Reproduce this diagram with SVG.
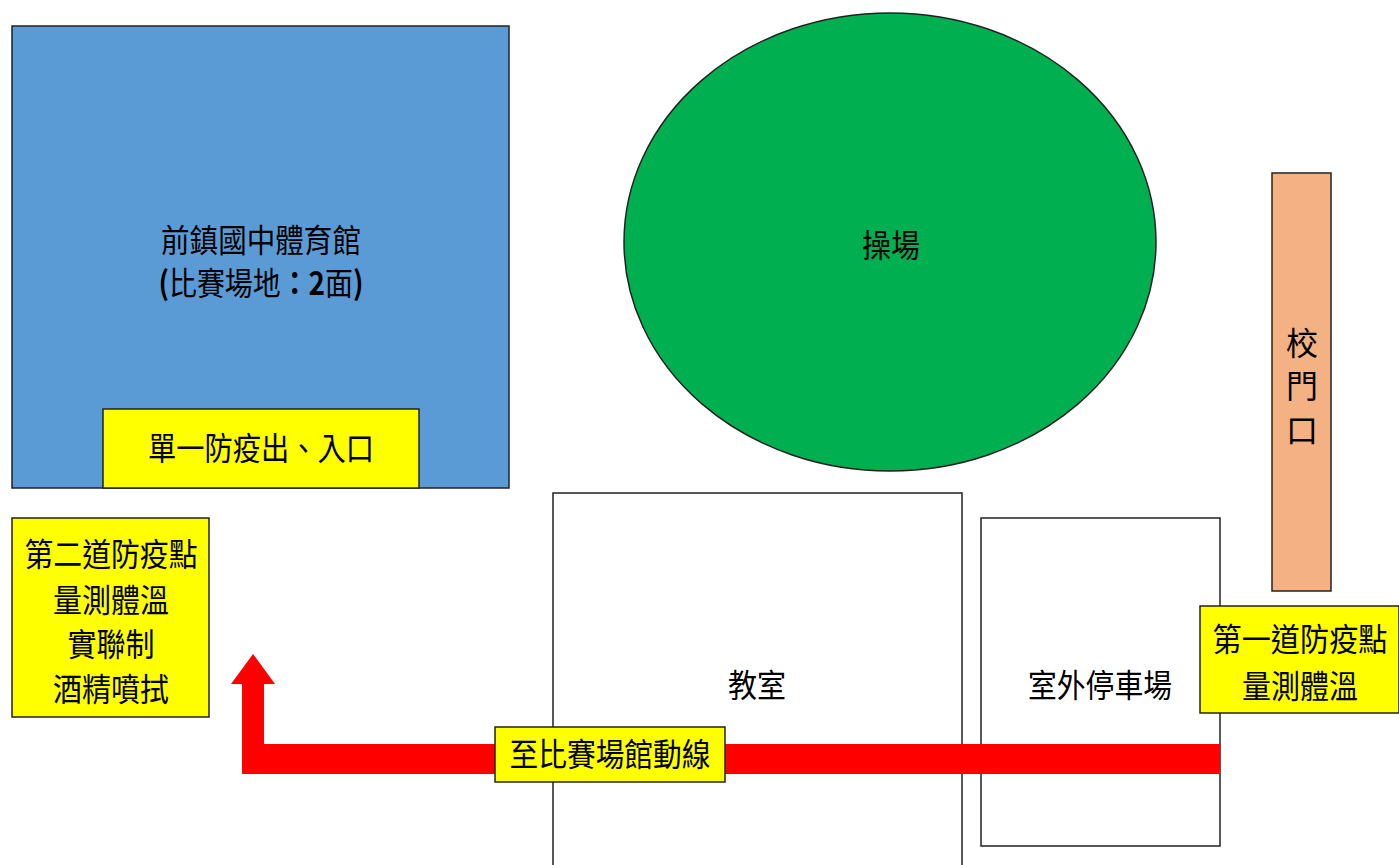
<svg xmlns="http://www.w3.org/2000/svg" width="1399" height="865" viewBox="0 0 1399 865">
<style>
.t{font-family:"Noto Sans CJK TC","Noto Sans CJK SC",sans-serif;font-size:32px;fill:#000;text-anchor:middle}
.b{stroke:#222;stroke-width:1.5}
.y{fill:#FFFF00;stroke:#222;stroke-width:1.5}
</style>
<rect width="1399" height="865" fill="#fff"/>
<g id="gym">
<rect x="12" y="26" width="497" height="462" fill="#5B9BD5" class="b"/>
<text class="t" x="261" y="252" textLength="200" lengthAdjust="spacingAndGlyphs">前鎮國中體育館</text>
<text class="t" x="261" y="295" textLength="205" lengthAdjust="spacingAndGlyphs"><tspan font-weight="bold">(</tspan>比賽場地<tspan font-weight="bold">：2</tspan>面<tspan font-weight="bold">)</tspan></text>
</g>
<g id="entrance">
<rect x="103" y="409" width="316" height="79" class="y"/>
<text class="t" x="261" y="460" textLength="226" lengthAdjust="spacingAndGlyphs">單一防疫出、入口</text>
</g>
<g id="field">
<ellipse cx="890" cy="242" rx="266" ry="229" fill="#00B050" class="b"/>
<text class="t" x="891" y="257" textLength="58" lengthAdjust="spacingAndGlyphs">操場</text>
</g>
<g id="gate">
<rect x="1272" y="173" width="59" height="418" fill="#F4B183" class="b"/>
<text class="t" x="1302" y="355">校</text>
<text class="t" x="1302" y="398">門</text>
<text class="t" x="1302" y="442">口</text>
</g>
<g id="classroom">
<rect x="553" y="493" width="409" height="380" fill="#fff" class="b"/>
<text class="t" x="757" y="697" textLength="58" lengthAdjust="spacingAndGlyphs">教室</text>
</g>
<g id="parking">
<rect x="981" y="518" width="239" height="328" fill="#fff" class="b"/>
<text class="t" x="1100" y="697" textLength="144" lengthAdjust="spacingAndGlyphs">室外停車場</text>
</g>
<g id="connectors">
<path d="M1220,744 L264,744 L264,684 L275,684 L253,654 L231,684 L242,684 L242,774 L1220,774 Z" fill="#FF0000"/>
</g>
<g id="route-label">
<rect x="495" y="727" width="230" height="55" class="y"/>
<text class="t" x="610" y="766" textLength="201" lengthAdjust="spacingAndGlyphs">至比賽場館動線</text>
</g>
<g id="checkpoint1">
<rect x="1200" y="606" width="199" height="107" class="y"/>
<text class="t" x="1300" y="651" textLength="175" lengthAdjust="spacingAndGlyphs">第一道防疫點</text>
<text class="t" x="1300" y="698" textLength="116" lengthAdjust="spacingAndGlyphs">量測體溫</text>
</g>
<g id="checkpoint2">
<rect x="12" y="518" width="197" height="199" class="y"/>
<text class="t" x="111" y="566" textLength="173" lengthAdjust="spacingAndGlyphs">第二道防疫點</text>
<text class="t" x="111" y="612" textLength="116" lengthAdjust="spacingAndGlyphs">量測體溫</text>
<text class="t" x="111" y="656" textLength="87" lengthAdjust="spacingAndGlyphs">實聯制</text>
<text class="t" x="111" y="701" textLength="116" lengthAdjust="spacingAndGlyphs">酒精噴拭</text>
</g>
</svg>
